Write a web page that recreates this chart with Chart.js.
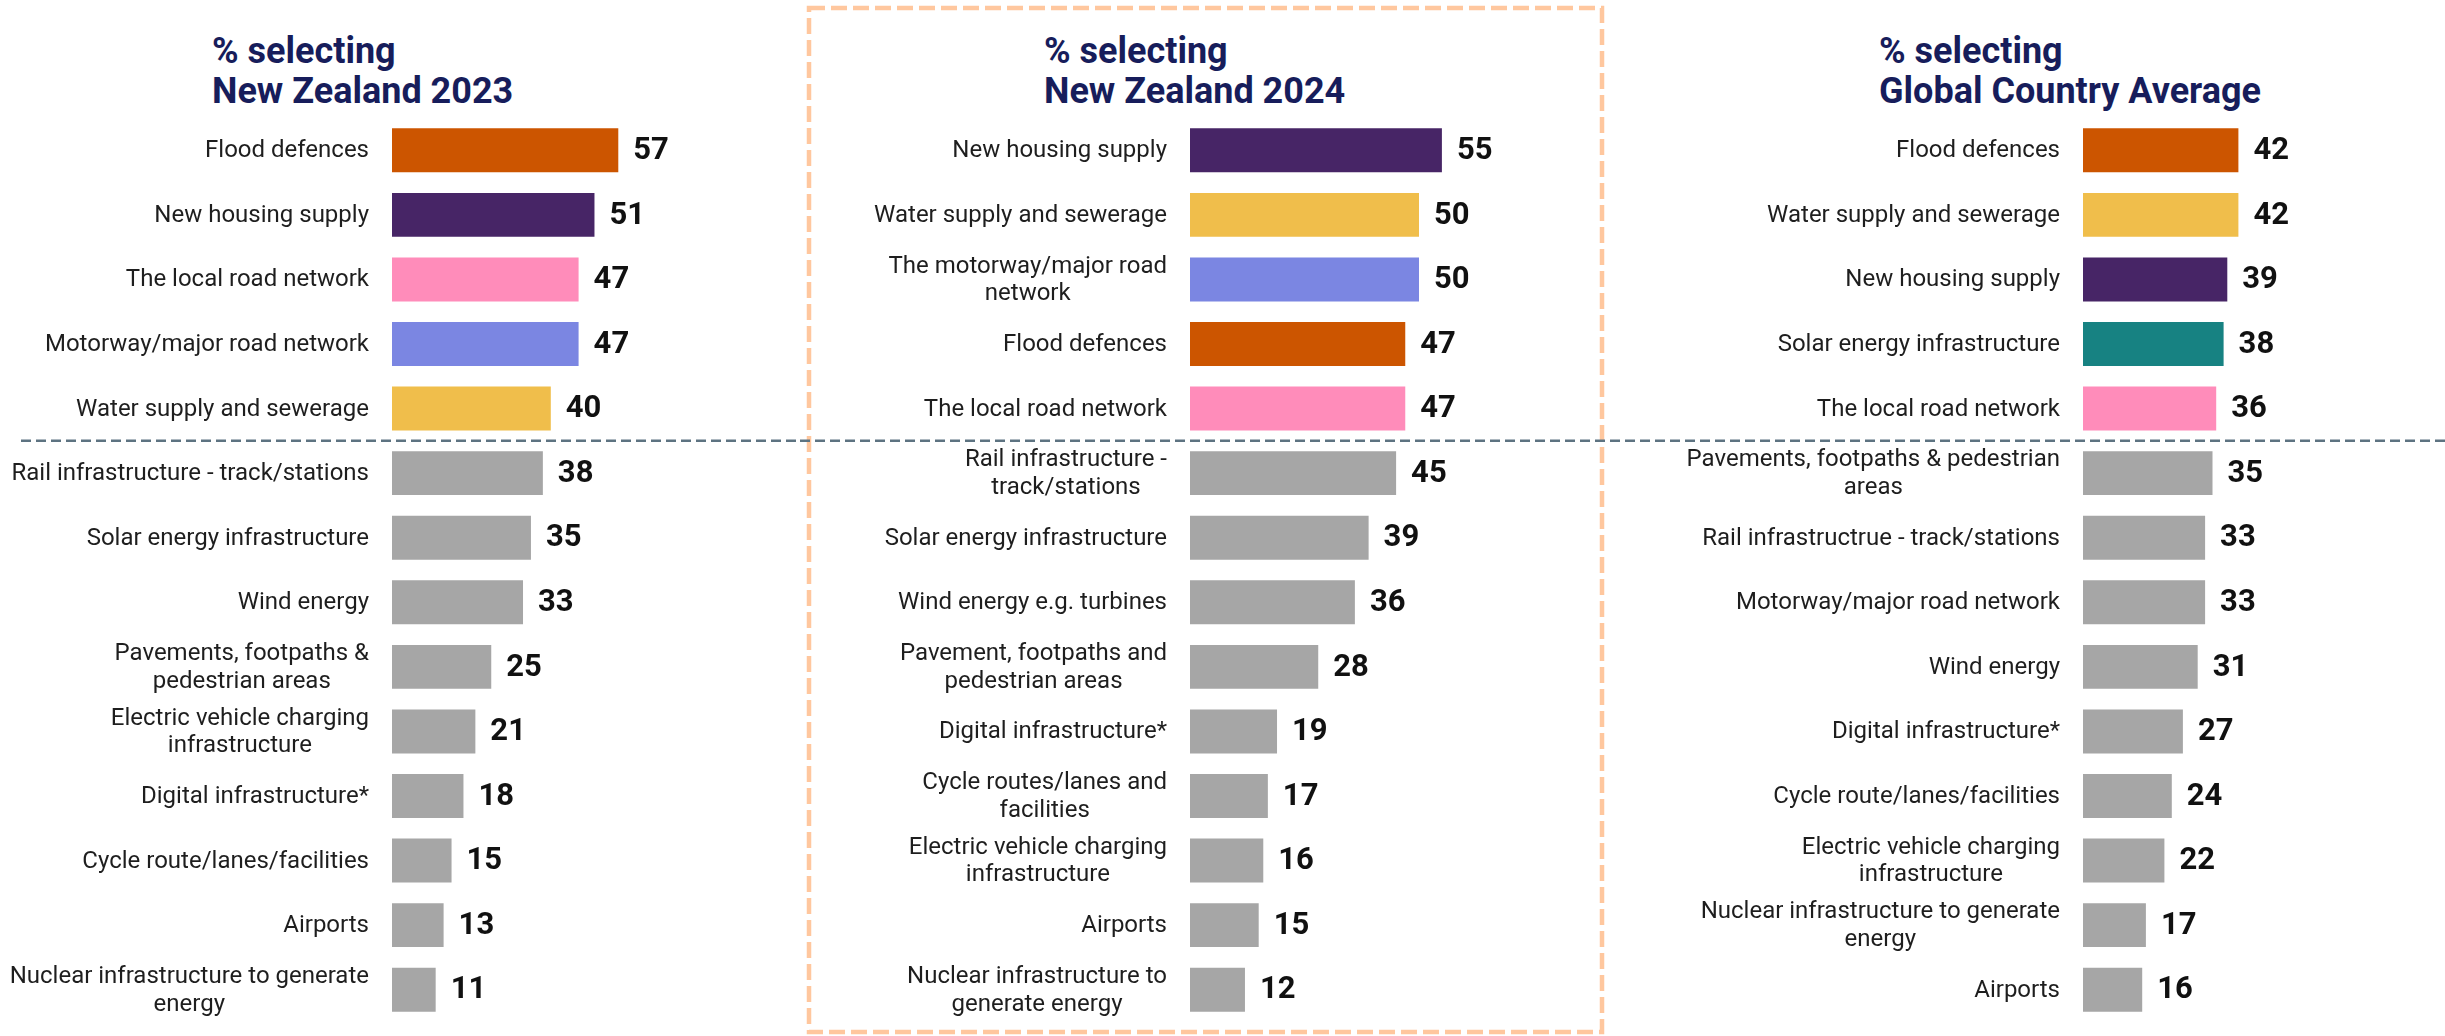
<!DOCTYPE html>
<html>
<head>
<meta charset="utf-8">
<title>Infrastructure priorities</title>
<script src="https://cdn.jsdelivr.net/npm/chart.js@4.4.1/dist/chart.umd.min.js"></script>
<style>
  body { margin: 0; background: #fff; }
  #wrap { position: relative; width: 2445px; height: 1036px; overflow: hidden; }
  .panel { position: absolute; top: 0; height: 1036px; }
  .title {
    position: absolute; top: 31px;
    font: 700 36px Roboto, sans-serif; line-height: 40px;
    color: #171d5b; white-space: nowrap;
  }
</style>
</head>
<body>
<div id="wrap">
  <div class="title" style="left:212px">% selecting<br>New Zealand 2023</div>
  <div class="title" style="left:1044px">% selecting<br>New Zealand 2024</div>
  <div class="title" style="left:1879px">% selecting<br>Global Country Average</div>
  <div class="panel" style="left:0px;width:800px"><canvas id="nz2023"></canvas></div>
  <div class="panel" style="left:800px;width:840px"><canvas id="nz2024"></canvas></div>
  <div class="panel" style="left:1640px;width:805px"><canvas id="global"></canvas></div>
</div>

<script>
// ---- DATA ----
const nz2023Labels = [
  "Flood defences",
  "New housing supply",
  "The local road network",
  "Motorway/major road network",
  "Water supply and sewerage",
  "Rail infrastructure - track/stations",
  "Solar energy infrastructure",
  "Wind energy",
  "Pavements, footpaths &\npedestrian areas",
  "Electric vehicle charging\ninfrastructure",
  "Digital infrastructure*",
  "Cycle route/lanes/facilities",
  "Airports",
  "Nuclear infrastructure to generate\nenergy"
];
const nz2023Values = [57, 51, 47, 47, 40, 38, 35, 33, 25, 21, 18, 15, 13, 11];

const nz2024Labels = [
  "New housing supply",
  "Water supply and sewerage",
  "The motorway/major road\nnetwork",
  "Flood defences",
  "The local road network",
  "Rail infrastructure -\ntrack/stations",
  "Solar energy infrastructure",
  "Wind energy e.g. turbines",
  "Pavement, footpaths and\npedestrian areas",
  "Digital infrastructure*",
  "Cycle routes/lanes and\nfacilities",
  "Electric vehicle charging\ninfrastructure",
  "Airports",
  "Nuclear infrastructure to\ngenerate energy"
];
const nz2024Values = [55, 50, 50, 47, 47, 45, 39, 36, 28, 19, 17, 16, 15, 12];

const globalLabels = [
  "Flood defences",
  "Water supply and sewerage",
  "New housing supply",
  "Solar energy infrastructure",
  "The local road network",
  "Pavements, footpaths & pedestrian\nareas",
  "Rail infrastructrue - track/stations",
  "Motorway/major road network",
  "Wind energy",
  "Digital infrastructure*",
  "Cycle route/lanes/facilities",
  "Electric vehicle charging\ninfrastructure",
  "Nuclear infrastructure to generate\nenergy",
  "Airports"
];
const globalValues = [42, 42, 39, 38, 36, 35, 33, 33, 31, 27, 24, 22, 17, 16];

// ---- STYLE ----
const TOP_N = 5;
const GREY = "#a6a6a6";
const themeColors = [
  [/flood/i, "#cc5500"],
  [/housing/i, "#472566"],
  [/local road/i, "#ff8cba"],
  [/motorway/i, "#7b86e2"],
  [/water/i, "#f0be4b"],
  [/solar/i, "#178282"]
];

function barColor(label, i) {
  if (i >= TOP_N) return GREY;
  const hit = themeColors.find(([re]) => re.test(label));
  return hit ? hit[1] : GREY;
}

const X_MAX = 90;
const PLOT_TOP = 118;
const PLOT_BOTTOM = 14;
const LABEL_GAP = 23;
const LABEL_SIZE = 24;
const LABEL_LINE = 27.6;

// category names: block right-aligned to the bars, wrapped lines centred in the block
const categoryLabels = {
  id: "categoryLabels",
  afterDraw(chart) {
    const ctx = chart.ctx;
    const y = chart.scales.y;
    const right = chart.chartArea.left - LABEL_GAP;
    ctx.save();
    ctx.font = LABEL_SIZE + "px Roboto, sans-serif";
    ctx.fillStyle = "#1e1e1e";
    ctx.textAlign = "center";
    ctx.textBaseline = "middle";
    chart.data.labels.forEach((lines, i) => {
      const w = Math.max(...lines.map(t => ctx.measureText(t).width));
      const cx = right - w / 2;
      const cy = y.getPixelForTick(i);
      const y0 = cy - (lines.length - 1) * LABEL_LINE / 2;
      lines.forEach((t, k) => ctx.fillText(t, cx, y0 + k * LABEL_LINE + 1));
    });
    ctx.restore();
  }
};

// value printed just right of each bar
const valueLabels = {
  id: "valueLabels",
  afterDatasetsDraw(chart) {
    const ctx = chart.ctx;
    const meta = chart.getDatasetMeta(0);
    const data = chart.data.datasets[0].data;
    ctx.save();
    ctx.font = "700 31px Roboto, sans-serif";
    ctx.fillStyle = "#111";
    ctx.textAlign = "left";
    ctx.textBaseline = "middle";
    meta.data.forEach((bar, i) => {
      ctx.fillText(String(data[i]), bar.x + 15, bar.y + 1);
    });
    ctx.restore();
  }
};

// dashed rule under the top five + optional highlight frame
const decorations = {
  id: "decorations",
  beforeDraw(chart, args, opts) {
    if (!opts.frame) return;
    const ctx = chart.ctx;
    const f = opts.frame;
    ctx.save();
    ctx.strokeStyle = "#ffc79e";
    ctx.lineWidth = 4.5;
    ctx.setLineDash([16, 6]);
    ctx.strokeRect(f.x, f.y, f.w, f.h);
    ctx.restore();
  },
  afterDraw(chart, args, opts) {
    const ctx = chart.ctx;
    const y = chart.scales.y;
    const yy = (y.getPixelForValue(TOP_N - 1) + y.getPixelForValue(TOP_N)) / 2;
    ctx.save();
    ctx.strokeStyle = "#5d7381";
    ctx.lineWidth = 2.5;
    ctx.setLineDash([10, 5]);
    ctx.beginPath();
    ctx.moveTo(opts.ruleStart || 0, yy);
    ctx.lineTo(chart.width, yy);
    ctx.stroke();
    ctx.restore();
  }
};

function drawPanel(id, labels, values, layout) {
  const rightPad = layout.width - layout.axisWidth - layout.pxPerUnit * X_MAX;
  const ctx = document.getElementById(id).getContext("2d");
  return new Chart(ctx, {
    type: "bar",
    data: {
      labels: labels.map(l => l.split("\n")),
      datasets: [{
        data: values,
        backgroundColor: labels.map(barColor),
        borderWidth: 0,
        barPercentage: 0.68,
        categoryPercentage: 1
      }]
    },
    options: {
      indexAxis: "y",
      responsive: true,
      maintainAspectRatio: false,
      animation: false,
      layout: { padding: { top: PLOT_TOP, bottom: PLOT_BOTTOM, left: 0, right: rightPad } },
      plugins: {
        legend: { display: false },
        tooltip: { enabled: false },
        decorations: { ruleStart: layout.ruleStart, frame: layout.frame }
      },
      scales: {
        x: { display: false, min: 0, max: X_MAX },
        y: {
          afterFit: scale => {
            scale.width = layout.axisWidth;
            scale.paddingTop = 0;
            scale.paddingBottom = 0;
          },
          grid: { display: false, drawTicks: false },
          border: { display: false },
          ticks: { display: false }
        }
      }
    },
    plugins: [valueLabels, categoryLabels, decorations]
  });
}

drawPanel("nz2023", nz2023Labels, nz2023Values,
  { width: 800, axisWidth: 392, pxPerUnit: 3.97, ruleStart: 21 });
drawPanel("nz2024", nz2024Labels, nz2024Values,
  { width: 840, axisWidth: 390, pxPerUnit: 4.58,
    frame: { x: 9, y: 8, w: 793, h: 1024 } });
drawPanel("global", globalLabels, globalValues,
  { width: 805, axisWidth: 443, pxPerUnit: 3.70 });
</script>
</body>
</html>
